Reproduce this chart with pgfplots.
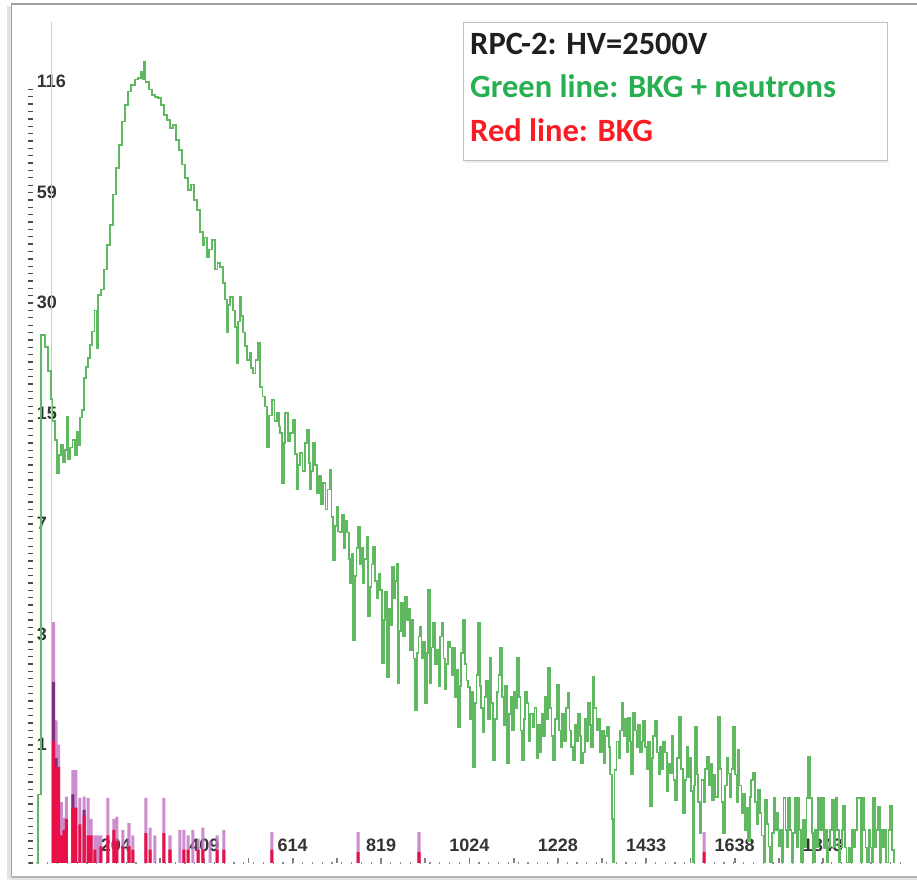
\documentclass[border=0pt]{standalone}
\usepackage{fontspec}
\setmainfont{Liberation Sans}
\newfontfamily\legendfont{Carlito}
\usepackage{pgfplots}
\pgfplotsset{compat=1.18}

\definecolor{spec}{RGB}{96,184,96}
\definecolor{bkgpurple}{RGB}{196,120,196}
\definecolor{bkgdark}{RGB}{128,44,128}
\definecolor{bkgred}{RGB}{232,16,70}
\definecolor{txtgreen}{RGB}{38,176,82}
\definecolor{txtred}{RGB}{250,28,36}
\definecolor{framegray}{RGB}{160,160,160}

\begin{document}
\begin{tikzpicture}[x=1bp,y=1bp]
\useasboundingbox (0,0) rectangle (917,880);
% window frame with a soft shadow
\draw[gray!22, line width=4bp] (9,1) -- (9,874);
\draw[gray!22, line width=4bp] (9,1) -- (917,1);
\draw[framegray, line width=1.3bp] (11.5,3) -- (11.5,876) -- (917,876);
\draw[framegray!80, line width=1.3bp] (11.5,3) -- (917,3);

\begin{axis}[
  at={(27.6bp,17bp)}, anchor=south west,
  scale only axis, width=880.3bp, height=841bp,
  xmin=0, xmax=2040, ymin=0, ymax=7.61,
  axis lines*=left,
  x axis line style={black!45, line width=1.2bp, dash pattern=on 1.2bp off 8.6bp},
  y axis line style={draw=none},
  tick align=inside,
  xtick={204.8,409.6,614.4,819.2,1024,1228.8,1433.6,1638.4,1843.2},
  xticklabels={204,409,614,819,1024,1228,1433,1638,1843},
  minor x tick num=1,
  x tick style={black!50, line width=1.8bp},
  ytick={0,1,2,3,4,5,6,7},
  yticklabels={,1,3,7,15,30,59,116},
  minor y tick num=14,
  y tick style={black!70, line width=1.3bp},
  major tick length=5bp, minor tick length=5bp,
  tick label style={font=\bfseries\fontsize{18bp}{18bp}\selectfont, text=black!80, inner sep=0pt},
  xticklabel style={anchor=base, yshift=11bp},
  yticklabel style={anchor=base west, xshift=9bp, yshift=1.5bp},
]
% cursor line
\draw[gray!40, line width=1.6bp] (axis cs:55,0) -- (axis cs:55,7.61);

% background only: purple and red bars
\addplot[ybar, bar width=7, fill=bkgpurple, draw=none, fill opacity=0.85] coordinates {
 (60,2.18) (66,1.29) (72,1.07) (78,0.55) (84,0.41) (90,0.60) (105,0.84) (112,0.84)
 (121,0.59) (131,0.60) (140,0.59) (147,0.40) (156,0.25) (163,0.25) (170,0.25)
 (186,0.59) (200,0.40) (207,0.42) (221,0.30) (235,0.36) (244,0.25) (274,0.59)
 (284,0.32) (295,0.25) (316,0.59) (330,0.25) (353,0.30) (362,0.30) (372,0.25)
 (383,0.30) (395,0.22) (406,0.32) (423,0.20) (439,0.25) (455,0.30) (566,0.28)
 (766,0.28) (907,0.28) (1568,0.28)};
\addplot[ybar, bar width=7, fill=bkgdark, draw=none] coordinates {
 (60,1.64) (66,0.95) (105,0.62) (131,0.48)};
\addplot[ybar, bar width=7, fill=bkgred, draw=none] coordinates {
 (60,1.10) (66,0.87) (72,0.87) (78,0.25) (84,0.30) (90,0.40) (105,0.50) (112,0.50)
 (121,0.35) (131,0.43) (140,0.25) (147,0.25) (156,0.12) (170,0.15) (186,0.25)
 (200,0.30) (207,0.20) (221,0.15) (235,0.15) (244,0.12) (274,0.27) (284,0.12)
 (316,0.27) (330,0.12) (362,0.12) (372,0.12) (395,0.12) (406,0.12) (439,0.12)
 (455,0.12) (566,0.12) (766,0.10) (907,0.10) (1568,0.10)};

% background + neutrons spectrum
\addplot[const plot, spec, line width=1.7bp] coordinates {
(20,0) (24,0.62) (31,4.78) (40,4.67) (48,4.45) (54,4.20) (58,4.00) (63,3.83) (68,3.53)
(72,3.69) (77,3.78) (82,3.63) (87,3.74) (91,4.04) (94,3.65) (98,3.76) (104,3.83)
(110,3.69) (114,3.90) (119,3.78) (122,4.03) (126,4.10) (131,4.39) (135,4.49)
(140,4.57) (145,4.69) (150,4.81) (155,5.00) (160,4.66) (163,5.14) (170,5.19)
(177,5.37) (184,5.59) (191,5.77) (198,6.05) (205,6.29) (212,6.50) (219,6.71)
(226,6.86) (233,6.98) (240,7.04) (249,7.09) (256,7.10) (263,7.16) (267,7.09)
(270,7.25) (273,7.07) (281,7.00) (288,6.95) (296,6.93) (302,6.92) (309,6.86)
(316,6.77) (323,6.72) (330,6.65) (337,6.68) (344,6.54) (351,6.45) (358,6.32)
(365,6.20) (372,6.09) (379,6.14) (386,6.00) (393,5.91) (400,5.71) (406,5.59)
(410,5.66) (416,5.48) (421,5.55) (427,5.64) (434,5.37) (440,5.43) (446,5.39)
(452,5.25) (457,5.10) (462,4.80) (465,5.05) (469,5.12) (476,5.00) (481,4.85)
(485,4.52) (488,4.90) (492,5.12) (496,4.95) (499,4.80) (504,4.68) (508,4.55)
(514,4.62) (518,4.48) (522,4.43) (528,4.55) (534,4.71) (539,4.31) (544,4.22)
(550,4.13) (555,3.76) (560,4.05) (566,4.19) (572,4.00) (578,4.07) (582,3.95)
(585,3.89) (590,3.44) (594,3.80) (597,4.07) (603,3.82) (608,3.89) (615,4.01)
(620,3.70) (624,3.38) (628,3.60) (631,3.71) (637,3.55) (643,3.80) (648,3.92)
(652,3.62) (655,3.38) (658,3.55) (661,3.80) (666,3.60) (671,3.35) (676,3.50)
(680,3.25) (685,3.44) (690,3.20) (695,3.38) (701,3.56) (704,3.13) (708,2.74)
(712,3.05) (717,3.22) (720,3.00) (724,2.99) (728,3.15) (733,2.85) (736,3.10)
(740,2.99) (744,2.75) (747,2.53) (751,2.80) (754,2.02) (758,2.60) (762,2.85)
(766,3.04) (770,2.70) (774,2.85) (777,2.53) (781,2.75) (786,2.95) (789,2.23)
(793,2.50) (797,2.70) (801,2.86) (805,2.55) (810,2.40) (813,2.62) (817,2.47)
(822,1.81) (826,2.20) (829,2.45) (833,1.68) (837,2.30) (841,2.15) (845,2.68)
(849,2.40) (852,2.55) (856,2.71) (858,1.63) (862,2.10) (866,2.35) (870,2.05)
(875,2.41) (879,2.20) (883,2.30) (886,1.93) (890,2.20) (894,1.85) (898,1.38)
(902,1.90) (906,2.05) (909,2.14) (913,1.85) (917,2.00) (921,1.45) (925,1.90)
(928,2.47) (933,1.63) (936,1.95) (940,2.17) (944,1.80) (949,1.93) (953,1.60)
(956,2.05) (960,2.17) (964,1.85) (967,1.57) (971,1.80) (975,2.00) (979,1.95)
(983,1.70) (986,1.95) (990,1.50) (994,1.75) (998,1.23) (1002,1.60) (1005,1.90)
(1009,2.20) (1013,1.80) (1017,1.65) (1021,1.59) (1025,1.30) (1028,1.55) (1032,0.87)
(1036,1.45) (1040,1.70) (1044,2.17) (1048,1.60) (1051,1.40) (1055,1.18) (1059,1.50)
(1063,1.65) (1067,1.30) (1072,1.86) (1075,1.45) (1079,0.93) (1083,1.30) (1087,1.55)
(1091,1.70) (1095,1.95) (1099,1.50) (1103,1.25) (1107,1.60) (1111,0.90) (1115,1.35)
(1119,1.50) (1123,1.20) (1127,1.55) (1131,1.40) (1134,1.86) (1138,1.50) (1142,1.20)
(1146,0.93) (1150,1.30) (1153,1.55) (1157,1.45) (1161,1.10) (1165,1.35) (1171,1.23)
(1175,1.40) (1179,0.95) (1183,1.25) (1187,1.00) (1191,1.35) (1195,1.15) (1199,1.50)
(1202,1.30) (1206,1.77) (1210,1.40) (1214,1.15) (1218,0.93) (1222,1.30) (1227,1.61)
(1231,1.20) (1235,1.05) (1239,1.35) (1243,1.10) (1248,1.40) (1252,1.54) (1256,1.20)
(1260,1.05) (1264,0.93) (1268,1.25) (1272,1.10) (1276,1.35) (1280,1.15) (1283,0.90)
(1287,1.00) (1291,1.30) (1295,1.10) (1299,1.45) (1303,1.25) (1306,1.05) (1310,1.68)
(1314,1.40) (1318,1.20) (1322,1.30) (1327,1.00) (1331,1.20) (1335,0.90) (1339,1.15)
(1343,1.23) (1347,1.05) (1350,0.80) (1354,0.40) (1357,0.00) (1360,0.84) (1365,1.10)
(1369,0.95) (1373,1.20) (1377,1.45) (1381,1.15) (1385,1.30) (1388,1.00) (1392,1.31)
(1396,1.10) (1399,0.80) (1403,1.36) (1407,1.20) (1411,1.05) (1415,1.25) (1419,1.00)
(1423,1.10) (1426,1.29) (1430,1.05) (1434,0.85) (1438,1.10) (1443,0.51) (1447,0.95)
(1450,1.15) (1454,1.29) (1458,1.00) (1462,0.80) (1466,1.05) (1470,0.85) (1473,1.10)
(1477,1.00) (1481,0.65) (1485,0.90) (1489,0.81) (1493,1.15) (1497,0.75) (1500,0.57)
(1505,0.95) (1510,1.32) (1514,0.85) (1519,0.45) (1523,0.75) (1527,1.05) (1530,0.78)
(1534,0.95) (1538,0.65) (1542,0.00) (1545,0.70) (1547,1.23) (1551,0.80) (1554,0.55)
(1558,0.27) (1562,0.75) (1566,0.55) (1570,0.85) (1575,0.96) (1579,0.70) (1583,0.90)
(1586,0.57) (1590,0.80) (1594,0.60) (1600,1.32) (1604,0.85) (1608,0.55) (1612,0.27)
(1616,0.70) (1620,0.95) (1623,0.81) (1627,0.60) (1631,0.85) (1635,1.23) (1639,0.80)
(1643,0.55) (1646,1.02) (1650,0.70) (1654,0.45) (1658,0.63) (1662,0.30) (1666,0.50)
(1670,0.20) (1674,0.60) (1677,0.75) (1681,0.82) (1685,0.55) (1689,0.35) (1693,0.66)
(1697,0.45) (1701,0.25) (1705,0.00) (1709,0.57) (1713,0.35) (1717,0.15) (1721,0.00)
(1725,0.27) (1729,0.59) (1733,0.30) (1737,0.45) (1740,0.15) (1744,0.30) (1748,0.00)
(1752,0.59) (1756,0.30) (1760,0.14) (1762,0.59) (1766,0.30) (1770,0.00) (1774,0.27)
(1778,0.59) (1782,0.14) (1785,0.59) (1789,0.30) (1793,0.00) (1797,0.39) (1801,0.14)
(1805,0.59) (1809,0.96) (1813,0.59) (1817,0.27) (1820,0.00) (1824,0.30) (1828,0.14)
(1832,0.59) (1836,0.30) (1841,0.59) (1845,0.14) (1849,0.30) (1852,0.00) (1856,0.14)
(1860,0.30) (1864,0.57) (1868,0.14) (1872,0.59) (1876,0.30) (1880,0.00) (1884,0.14)
(1888,0.30) (1890,0.52) (1894,0.14) (1898,0.00) (1902,0.14) (1906,0.00) (1910,0.30)
(1914,0.14) (1918,0.30) (1922,0.59) (1926,0.59) (1930,0.00) (1934,0.59) (1938,0.30)
(1942,0.14) (1945,0.00) (1949,0.30) (1953,0.14) (1956,0.00) (1959,0.59) (1963,0.14)
(1967,0.30) (1971,0.51) (1975,0.00) (1979,0.30) (1982,0.14) (1986,0.30) (1990,0.00)
(1995,0.30) (1999,0.52) (2003,0.12) (2008,0.00)};
\end{axis}

% legend box
\fill[gray!15] (465,717) rectangle (889,719);
\draw[gray!50, line width=1bp, fill=white] (463,719) rectangle (887,857);
\begin{scope}[every node/.style={anchor=base west, inner sep=0pt,
    font=\legendfont\bfseries\fontsize{32.5bp}{32.5bp}\selectfont}]
\node[text=black!88] at (470,825) {RPC-2: HV=2500V};
\node[text=txtgreen] at (470,782) {Green line: BKG + neutrons};
\node[text=txtred] at (470,738) {Red line: BKG};
\end{scope}
\end{tikzpicture}
\end{document}
